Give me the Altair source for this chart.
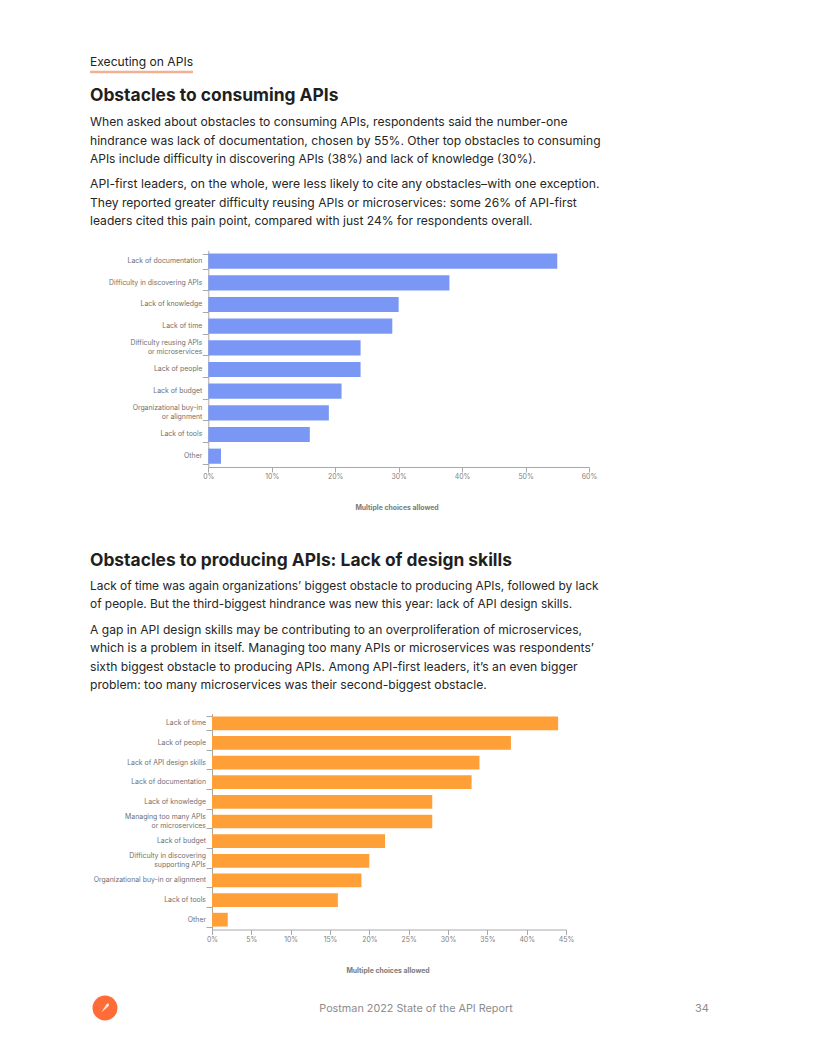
import altair as alt
import pandas as pd

CONSUME_CATS = ["Lack of documentation", "Difficulty in discovering APIs", "Lack of knowledge", "Lack of time",
                "Difficulty reusing APIs|or microservices", "Lack of people", "Lack of budget",
                "Organizational buy-in|or alignment", "Lack of tools", "Other"]
CONSUME_VALS = [55, 38, 30, 29, 24, 24, 21, 19, 16, 2]
PRODUCE_CATS = ["Lack of time", "Lack of people", "Lack of API design skills", "Lack of documentation",
                "Lack of knowledge", "Managing too many APIs|or microservices", "Lack of budget",
                "Difficulty in discovering|supporting APIs", "Organizational buy-in or alignment",
                "Lack of tools", "Other"]
PRODUCE_VALS = [44, 38, 34, 33, 28, 28, 22, 20, 19, 16, 2]

BODY_LINES = [
    "When asked about obstacles to consuming APIs, respondents said the number-one",
    "hindrance was lack of documentation, chosen by 55%. Other top obstacles to consuming",
    "APIs include difficulty in discovering APIs (38%) and lack of knowledge (30%).",
    "API-first leaders, on the whole, were less likely to cite any obstacles–with one exception.",
    "They reported greater difficulty reusing APIs or microservices: some 26% of API-first",
    "leaders cited this pain point, compared with just 24% for respondents overall.",
    "Lack of time was again organizations’ biggest obstacle to producing APIs, followed by lack",
    "of people. But the third-biggest hindrance was new this year: lack of API design skills.",
    "A gap in API design skills may be contributing to an overproliferation of microservices,",
    "which is a problem in itself. Managing too many APIs or microservices was respondents’",
    "sixth biggest obstacle to producing APIs. Among API-first leaders, it’s an even bigger",
    "problem: too many microservices was their second-biggest obstacle.",
]
BODY_Y = [122, 141, 159, 184, 203, 221, 586, 604, 630, 648, 667, 685]
BODY_SIZE = [12.15, 12.1, 11.98, 12.2, 12.1, 12.1, 11.9, 11.9, 12.1, 12.12, 12.17, 12.15]
HEADINGS = ["Obstacles to consuming APIs", "Obstacles to producing APIs: Lack of design skills"]
HEADING_Y = [96, 561]
NOTE_POS = [(397, 508), (388, 971)]
FONT = "Inter"
M = 8
W, H = 800, 1040
PEN = "M 0.35 -0.8 L 0.7 -0.75 L 0.65 -0.35 L -0.2 0.4 L -0.6 0.75 L -0.3 0.2 Z"


def text(s, x, y, size, color="#222222", weight="normal", align="left"):
    return alt.Chart(pd.DataFrame({"t": [s]})).mark_text(
        font=FONT, fontSize=size, color=color, fontWeight=weight, align=align, baseline="middle"
    ).encode(text="t:N", x=alt.value(x - M), y=alt.value(y - M))


def bars(cats, vals, color, x0, x1, xmax, xstep, y0, y1):
    yscale = alt.Scale(domain=cats, range=[y0 - M, y1 - M], paddingInner=0.3, paddingOuter=0.15)
    yaxis = alt.Axis(orient="left", offset=-(x0 - M), title=None, grid=False, tickBand="extent",
                     labels=False, tickColor="#a8a8a8", domainColor="#a8a8a8", tickSize=6)
    df = pd.DataFrame({"c": cats, "v": vals})
    bar = alt.Chart(df).mark_bar(color=color, cornerRadius=0).encode(
        x=alt.X("v:Q", scale=alt.Scale(domain=[0, xmax], range=[x0 - M, x1 - M], nice=False),
                axis=alt.Axis(orient="bottom", offset=-(H - (y1 - M)), title=None, grid=False,
                              values=list(range(0, xmax + 1, xstep)), labelExpr="datum.value + '%'",
                              labelFont=FONT, labelFontSize=6.9, labelColor="#808080", labelPadding=1.5,
                              labelFlush=False, tickColor="#a8a8a8", domainColor="#a8a8a8", tickSize=5)),
        y=alt.Y("c:N", sort=cats, scale=yscale, axis=yaxis),
    )
    rows = {"single": [], "first": [], "second": []}
    for c in cats:
        parts = c.split("|")
        if len(parts) == 1:
            rows["single"].append({"c": c, "t": parts[0]})
        else:
            rows["first"].append({"c": c, "t": parts[0]})
            rows["second"].append({"c": c, "t": parts[1]})
    marks = [bar]
    for key, dy in (("single", 0), ("first", -4.5), ("second", 4.5)):
        marks.append(alt.Chart(pd.DataFrame(rows[key])).mark_text(
            font=FONT, fontSize=6.9, color="#707070", align="right", baseline="middle", dy=dy
        ).encode(x=alt.value(x0 - M - 6), y=alt.Y("c:N", sort=cats, scale=yscale, axis=yaxis), text="t:N"))
    return alt.layer(*marks)


layers = [
    text("Executing on APIs", 90, 62, 12.1),
    alt.Chart(pd.DataFrame({"a": [0]})).mark_rule(color="#f3b093", strokeWidth=2.4).encode(
        x=alt.value(90 - M), x2=alt.value(193 - M), y=alt.value(72 - M)),
]
layers += [text(s, 90, y, 17.4, "#1f1f1f", "bold") for s, y in zip(HEADINGS, HEADING_Y)]
layers += [text(s, 90, y, z, "#262626") for s, y, z in zip(BODY_LINES, BODY_Y, BODY_SIZE)]
layers += [text("Multiple choices allowed", x, y, 6.9, "#7a7a7a", "bold", "center") for x, y in NOTE_POS]
layers.append(bars(CONSUME_CATS, CONSUME_VALS, "#7a97f6", 208.3, 589, 60, 10, 250.3, 467))
layers.append(bars(PRODUCE_CATS, PRODUCE_VALS, "#ff9f38", 212, 566, 45, 5, 713.5, 929.5))
layers.append(alt.Chart(pd.DataFrame({"a": [0]})).mark_point(
    filled=True, color="#ff6c37", size=625, shape="circle", opacity=1
).encode(x=alt.value(105 - M), y=alt.value(1008 - M)))
layers.append(alt.Chart(pd.DataFrame({"a": [0]})).mark_point(
    filled=True, color="#ffe9df", size=130, opacity=1, shape=PEN
).encode(x=alt.value(105 - M), y=alt.value(1008 - M)))
layers.append(text("Postman 2022 State of the API Report", 416, 1009, 10.8, "#8c8c8c", "normal", "center"))
layers.append(text("34", 702, 1009, 11, "#8c8c8c", "normal", "center"))

chart = alt.layer(*layers).resolve_scale(x="independent", y="independent").properties(
    width=W, height=H, padding=0, autosize=alt.AutoSizeParams(type="none")
).configure_view(stroke=None)

chart.save("out.html", embed_options={"renderer": "svg", "actions": False})
